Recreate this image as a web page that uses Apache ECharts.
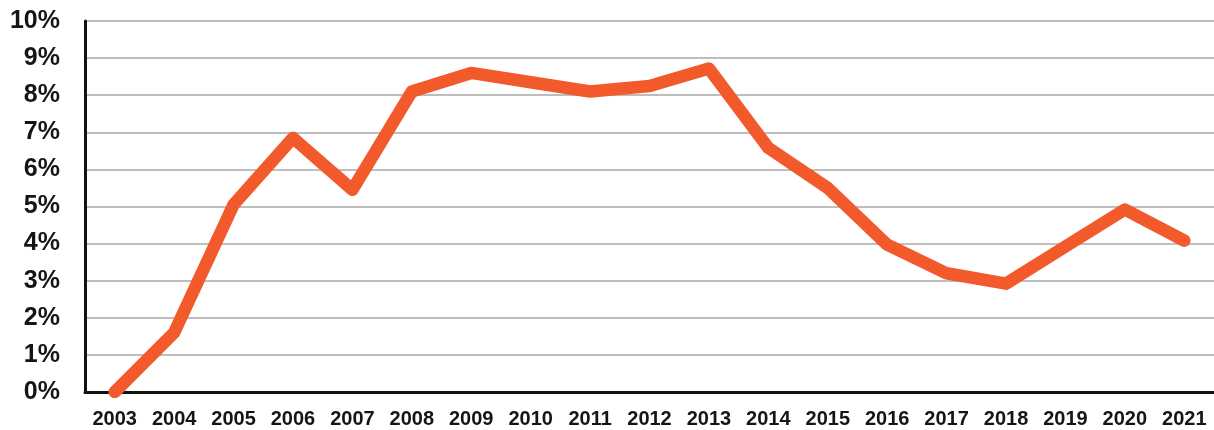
<!DOCTYPE html>
<html>
<head>
<meta charset="utf-8">
<style>
  html, body { margin: 0; padding: 0; background: #ffffff; }
  #chart { width: 1214px; height: 430px; }
</style>
<script src="https://cdn.jsdelivr.net/npm/echarts@6/dist/echarts.min.js"></script>
</head>
<body>
<div id="chart"></div>
<script>
// Years on the horizontal axis
const years = ['2003', '2004', '2005', '2006', '2007', '2008', '2009', '2010', '2011', '2012',
               '2013', '2014', '2015', '2016', '2017', '2018', '2019', '2020', '2021'];
// Yearly rate, in percent
const rates = [0, 1.6, 5.05, 6.85, 5.45, 8.1, 8.6, 8.35, 8.1, 8.25,
               8.72, 6.58, 5.5, 3.97, 3.2, 2.92, 3.92, 4.92, 4.08];
// Vertical axis range and step, in percent
const yMin = 0;
const yMax = 10;
const yStep = 1;

const chart = echarts.init(document.getElementById('chart'), null, { renderer: 'canvas' });

chart.setOption({
  backgroundColor: '#ffffff',
  animation: false,
  grid: { left: 85, top: 21, width: 1137, height: 371, containLabel: false },
  xAxis: {
    type: 'category',
    data: years,
    boundaryGap: true,
    axisLine: { show: true, lineStyle: { color: '#111111', width: 3 } },
    axisTick: { show: false },
    axisLabel: {
      color: '#151515',
      fontFamily: 'Liberation Sans, Arial, sans-serif',
      fontWeight: 'bold',
      fontSize: 20,
      margin: 17,
      interval: 0
    },
    splitLine: { show: false }
  },
  yAxis: {
    type: 'value',
    min: yMin,
    max: yMax,
    interval: yStep,
    axisLine: { show: true, lineStyle: { color: '#111111', width: 3 } },
    axisTick: { show: false },
    axisLabel: {
      formatter: '{value}%',
      color: '#151515',
      fontFamily: 'Liberation Sans, Arial, sans-serif',
      fontWeight: 'bold',
      fontSize: 25,
      margin: 25
    },
    splitLine: { show: true, lineStyle: { color: '#a8a8a8', width: 1.5 } }
  },
  series: [{
    type: 'line',
    data: rates,
    symbol: 'none',
    clip: true,
    lineStyle: { color: '#f25a2b', width: 12.5, cap: 'round', join: 'round' },
    z: 1
  }]
});
</script>
</body>
</html>
